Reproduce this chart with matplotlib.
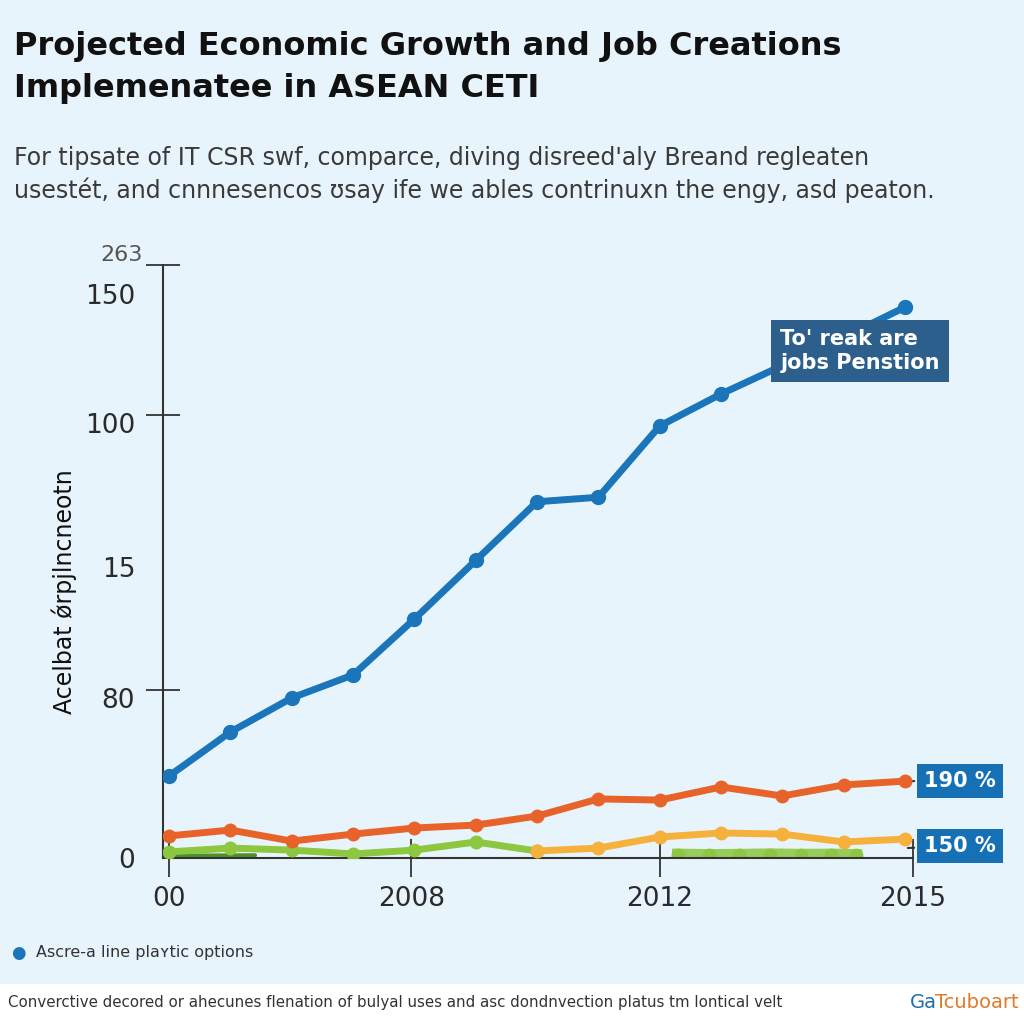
import matplotlib.pyplot as plt

# values (index along x, arbitrary units on y)
idx = list(range(13))
blue = [36.4, 55.9, 71.0, 81.2, 106.0, 132.0, 158.0, 160.0, 191.6, 205.8, 218.4, 231.0, 244.3]
orange = [9.8, 12.4, 7.5, 10.6, 13.3, 14.6, 18.6, 26.2, 25.7, 31.5, 27.5, 32.4, 34.1]
green_x = [0, 1, 2, 3, 4, 5, 6]
green = [2.7, 4.4, 3.5, 1.8, 3.5, 7.1, 3.1]
yellow_x = [6, 7, 8, 9, 10, 11, 12]
yellow = [3.1, 4.4, 9.3, 11.1, 10.6, 7.1, 8.4]
dark_x = [0.1, 1.4]
dark = [1.0, 1.2]
blob_x = [8.3, 8.8, 9.3, 9.8, 10.3, 10.8, 11.2]
blob = [1.4, 1.2, 1.3, 1.5, 1.3, 1.4, 1.2]

xtick_pos = [0, 3.95, 8.0, 12.13]
xtick_labels = ['00', '2008', '2012', '2015']
ytick_pos = [0, 71, 129, 193, 250]
ytick_labels = ['0', '80', '15', '100', '150']
ymark_pos = [0, 74.5, 196.5, 263]

BG = '#E8F4FB'
BLUE = '#1B75BB'
ORANGE = '#E8632A'
YELLOW = '#F6B13D'
GREEN = '#8DC63F'
TXT = '#2B2B2B'

plt.rcParams['font.family'] = ['DejaVu Sans']

fig = plt.figure(figsize=(10.24, 10.24), dpi=100, facecolor=BG)
ax = fig.add_axes([163 / 1024, 1 - 858 / 1024, 750 / 1024, 593 / 1024])
ax.set_facecolor(BG)

ax.plot(dark_x, dark, color='#4E8F2A', lw=3, solid_capstyle='round', zorder=2)
ax.plot(blob_x, blob, color=GREEN, lw=9, alpha=0.85, marker='o', ms=9, zorder=2)
ax.plot(green_x, green, color=GREEN, lw=5, marker='o', ms=9, zorder=3)
ax.plot(yellow_x, yellow, color=YELLOW, lw=5, marker='o', ms=9, zorder=3)
ax.plot(idx, orange, color=ORANGE, lw=5, marker='o', ms=9, zorder=4)
ax.plot(idx, blue, color=BLUE, lw=5, marker='o', ms=10, zorder=5)

ax.set_xlim(-0.1, 12.13)
ax.set_ylim(0, 263)

for s in ['top', 'right']:
    ax.spines[s].set_visible(False)
for s in ['left', 'bottom']:
    ax.spines[s].set_color('#333333')
    ax.spines[s].set_linewidth(1.5)

ax.set_xticks(xtick_pos)
ax.set_xticklabels(xtick_labels, fontsize=19, color=TXT)
ax.tick_params(axis='x', length=28, width=1.3, color='#333333', pad=6, direction='inout')
ax.set_yticks(ytick_pos)
ax.set_yticklabels(ytick_labels, fontsize=19, color=TXT)
ax.tick_params(axis='y', length=0, pad=20)
ax.set_yticks(ymark_pos, minor=True)
ax.tick_params(axis='y', which='minor', length=24, width=1.3, color='#333333', direction='inout')
ax.text(-0.027, 1.017, '263', transform=ax.transAxes, fontsize=16, color='#555555',
        ha='right', va='center')

ax.set_ylabel('Acelbat ǿrpjlncneotn', fontsize=17, color='#111111')
ax.yaxis.set_label_coords(-0.115, 0.45)

# annotation boxes
ax.text(0.823, 0.855, "To' reak are\njobs Penstion", transform=ax.transAxes,
        fontsize=15, fontweight='bold', color='white', va='center', ha='left',
        linespacing=1.25,
        bbox=dict(boxstyle='square,pad=0.45', fc='#2C5F8C', ec='none'), zorder=6)
ax.annotate('190 %', xy=(12, orange[-1]), xytext=(1.015, orange[-1] / 263),
            textcoords='axes fraction', fontsize=15, fontweight='bold', color='white',
            va='center', ha='left', annotation_clip=False,
            bbox=dict(boxstyle='square,pad=0.35', fc='#1570B6', ec='none'),
            arrowprops=dict(arrowstyle='-', color='#333333', lw=1.5))
ax.annotate('150 %', xy=(12, yellow[-1] - 4), xytext=(1.015, 0.02),
            textcoords='axes fraction', fontsize=15, fontweight='bold', color='white',
            va='center', ha='left', annotation_clip=False,
            bbox=dict(boxstyle='square,pad=0.35', fc='#1570B6', ec='none'),
            arrowprops=dict(arrowstyle='-', color='#333333', lw=1.5))

# title and subtitle
fig.text(14 / 1024, 1 - 47 / 1024, 'Projected Economic Growth and Job Creations',
         fontsize=23, fontweight='bold', color='#111111', va='center')
fig.text(14 / 1024, 1 - 88 / 1024, 'Implemenatee in ASEAN CETI',
         fontsize=23, fontweight='bold', color='#111111', va='center')
fig.text(14 / 1024, 1 - 158 / 1024,
         "For tipsate of IT CSR swf, comparce, diving disreed'aly Breand regleaten",
         fontsize=17, color='#3A3A3A', va='center')
fig.text(14 / 1024, 1 - 190 / 1024,
         'usestét, and cnnnesencos ʊsay ife we ables contrinuxn the engy, asd peaton.',
         fontsize=17, color='#3A3A3A', va='center')

# legend-like note
fig.text(18 / 1024, 1 - 953 / 1024, '●', fontsize=12, color=BLUE, va='center', ha='center')
fig.text(36 / 1024, 1 - 953 / 1024, 'Ascre-a line plaʏtic options', fontsize=11.5,
         color='#333333', va='center')

# footer band
fig.patches.append(plt.Rectangle((0, 0), 1, 40 / 1024, transform=fig.transFigure,
                                 fc='white', ec='none', zorder=0))
fig.text(8 / 1024, 1 - 1003 / 1024,
         'Converctive decored or ahecunes flenation of bulyal uses and asc dondnvection platus tm lontical velt',
         fontsize=10.8, color='#333333', va='center')
fig.text(937 / 1024, 1 - 1003 / 1024, 'Ga', fontsize=14, color='#1F6FA8',
         va='center', ha='right')
fig.text(935 / 1024, 1 - 1003 / 1024, 'Tcuboart', fontsize=14, color='#E07B2A',
         va='center', ha='left')

fig.savefig('out.png', dpi=100, facecolor=BG)
